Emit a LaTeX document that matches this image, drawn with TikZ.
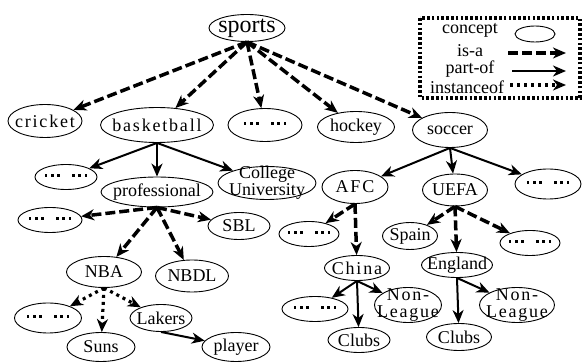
\documentclass[tikz,border=0pt]{standalone}
\usepackage{fontspec}
\setmainfont{Liberation Serif}
\newfontfamily\wide[LetterSpace=10]{Liberation Serif}
\usetikzlibrary{shapes.geometric,arrows.meta}
\newcommand\dt{\rule{2.8pt}{2.8pt}}
\newcommand\dd{\raisebox{0.2em}{\dt\hspace{3.5pt}\dt\hspace{3.5pt}\dt\hspace{12pt}\dt\hspace{3.5pt}\dt\hspace{3.5pt}\dt}}
\begin{document}
\begin{tikzpicture}[x=1pt,y=-1pt,
    concept/.style={draw,ellipse,line width=0.9pt,inner sep=-40pt,font=\fontsize{18}{17}\selectfont,align=center},
    isa/.style={-{Stealth[length=13pt,width=11pt,inset=4pt]},line width=3.5pt,dash pattern=on 10pt off 4pt},
    partof/.style={-{Stealth[length=13pt,width=11pt,inset=4pt]},line width=2pt},
    inst/.style={-{Stealth[length=13pt,width=11pt,inset=4pt]},line width=3.2pt,dash pattern=on 3pt off 4pt},
    legendbox/.style={line width=3.2pt,dash pattern=on 2.6pt off 2.2pt}]
    \useasboundingbox (0,0) rectangle (582,363);
    % concepts
    \node[concept,minimum width=76pt,minimum height=27pt,font=\fontsize{24}{24}\selectfont] (sports) at (247,28) {sports};
    \node[concept,minimum width=74pt,minimum height=33pt] (cricket) at (45,121) {\wide cricket};
    \node[concept,minimum width=113pt,minimum height=35pt] (basketball) at (157,125) {\wide basketball};
    \node[concept,minimum width=74pt,minimum height=33pt] (sdots) at (265,125) {\dd};
    \node[concept,minimum width=77pt,minimum height=31pt] (hockey) at (356,127) {hockey};
    \node[concept,minimum width=75pt,minimum height=35pt] (soccer) at (450,130) {soccer};
    \node[concept,minimum width=62pt,minimum height=25pt] (bdots) at (66,177) {\dd};
    \node[concept,minimum width=112pt,minimum height=30pt] (professional) at (157,192) {professional};
    \node[concept,minimum width=98pt,minimum height=33pt] (college) at (267,183) {College\\University};
    \node[concept,minimum width=66pt,minimum height=33pt] (afc) at (355,187) {\wide AFC};
    \node[concept,minimum width=65pt,minimum height=32pt] (uefa) at (455,190) {UEFA};
    \node[concept,minimum width=66pt,minimum height=30pt] (cdots) at (548,184) {\dd};
    \node[concept,minimum width=64pt,minimum height=25pt] (pdots) at (50,220) {\dd};
    \node[concept,minimum width=62pt,minimum height=27pt] (sbl) at (239,226) {SBL};
    \node[concept,minimum width=60pt,minimum height=25pt] (adots) at (309,234) {\dd};
    \node[concept,minimum width=55pt,minimum height=27pt] (spain) at (410,236) {Spain};
    \node[concept,minimum width=60pt,minimum height=25pt] (udots) at (530,243) {\dd};
    \node[concept,minimum width=75pt,minimum height=31pt] (nba) at (104,272) {NBA};
    \node[concept,minimum width=73pt,minimum height=32pt] (nbdl) at (192,276) {NBDL};
    \node[concept,minimum width=65pt,minimum height=25pt] (china) at (357,268) {\wide China};
    \node[concept,minimum width=71pt,minimum height=25pt] (england) at (457,265) {England};
    \node[concept,minimum width=67pt,minimum height=30pt] (ndots) at (48,318) {\dd};
    \node[concept,minimum width=62pt,minimum height=27pt] (lakers) at (161,318) {Lakers};
    \node[concept,minimum width=68pt,minimum height=29pt] (suns) at (101,347) {Suns};
    \node[concept,minimum width=68pt,minimum height=29pt] (player) at (236,347) {player};
    \node[concept,minimum width=66pt,minimum height=25pt] (chdots) at (315,309) {\dd};
    \node[concept,minimum width=67pt,minimum height=35pt] (nonleague1) at (408,305) {\wide Non-\\\wide League};
    \node[concept,minimum width=75pt,minimum height=35pt] (nonleague2) at (517,305) {\wide Non-\\\wide League};
    \node[concept,minimum width=62pt,minimum height=25pt] (clubs1) at (359,340) {Clubs};
    \node[concept,minimum width=65pt,minimum height=27pt] (clubs2) at (459,337) {Clubs};
    % relations
    \foreach \t in {cricket,basketball,sdots,hockey,soccer} \draw[isa] (sports.south) -- (\t);
    \foreach \t in {bdots,professional,college} \draw[partof] (basketball.south) -- (\t);
    \foreach \t in {afc,uefa,cdots} \draw[partof] (soccer.south) -- (\t);
    \foreach \t in {pdots,nba,nbdl,sbl} \draw[isa] (professional.south) -- (\t);
    \foreach \t in {adots,china} \draw[isa] (afc.south) -- (\t);
    \foreach \t in {spain,england,udots} \draw[isa] (uefa.south) -- (\t);
    \foreach \t in {ndots,suns,lakers} \draw[inst] (nba.south) -- (\t);
    \draw[partof] (lakers.south) -- (player);
    \foreach \t in {chdots,clubs1,nonleague1} \draw[partof] (china.south) -- (\t);
    \foreach \t in {clubs2,nonleague2} \draw[partof] (england.south) -- (\t);
    % legend
    \draw[legendbox] (420,18) rectangle (580,98);
    \node[font=\fontsize{18}{18}\selectfont] (lconcept) at (470,30) {concept};
    \node[font=\fontsize{18}{18}\selectfont] (lisa) at (470,51) {is-a};
    \node[font=\fontsize{18}{18}\selectfont] (lpartof) at (470,69) {part-of};
    \node[font=\fontsize{18}{18}\selectfont] (linst) at (467,87) {instanceof};
    \node[concept,minimum width=40pt,minimum height=16pt] (lell) at (535,34) {};
    \coordinate (isaA) at (508,53); \coordinate (isaB) at (566,53);
    \coordinate (partA) at (512,71); \coordinate (partB) at (566,71);
    \coordinate (instA) at (510,85); \coordinate (instB) at (566,85);
    \draw[isa] (isaA) -- (isaB);
    \draw[partof] (partA) -- (partB);
    \draw[inst] (instA) -- (instB);
\end{tikzpicture}
\end{document}
